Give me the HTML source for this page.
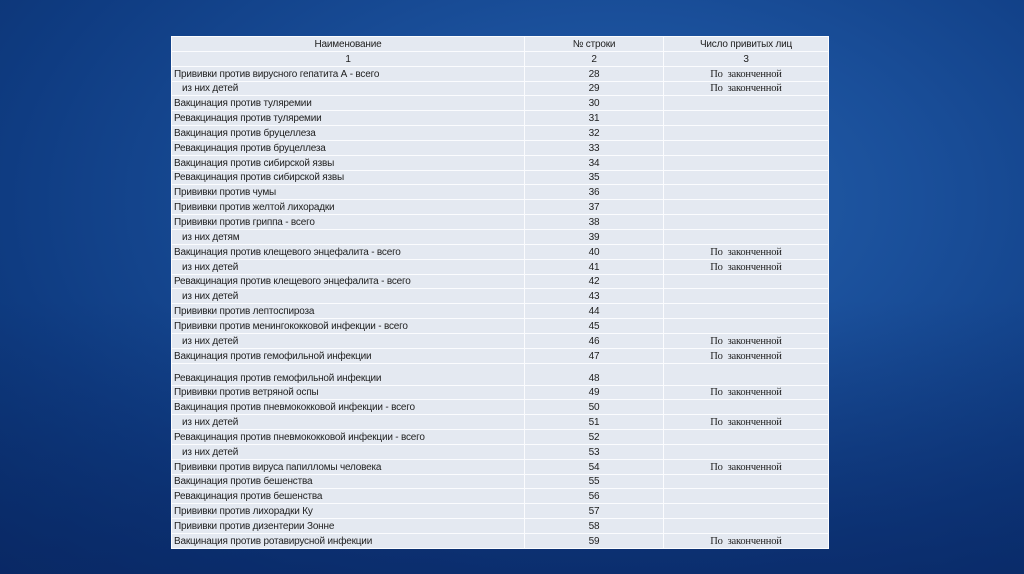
<!DOCTYPE html>
<html><head><meta charset="utf-8"><style>
html,body{margin:0;padding:0;width:1024px;height:574px;overflow:hidden}
body{background:radial-gradient(ellipse at 60% 35%,#2561ac 0%,#1a4f9a 35%,#0f3c82 70%,#0a2f6c 100%);position:relative;font-family:"Liberation Sans","Noto Sans CJK SC",sans-serif}
.band{position:absolute;left:0;right:0;top:300px;height:274px;background:linear-gradient(180deg,rgba(10,40,100,0) 0%,rgba(8,35,95,.55) 100%)}
table{position:absolute;left:171px;top:36px;width:657px;table-layout:fixed;border-collapse:collapse;background:#e4e9f1;font-size:10px;color:#1e1e1e;letter-spacing:-0.2px}
td{border:1px solid #fbfcfe;height:13.85px;padding:0 2px;line-height:12px;white-space:nowrap;vertical-align:bottom;overflow:hidden}
td:nth-child(2){text-align:center}
td:nth-child(3){text-align:center;font-family:"Liberation Serif",serif;font-size:10.5px}
tr.h td:nth-child(3){font-family:"Liberation Sans",sans-serif;font-size:10px}
tr.h td{text-align:center}
.i{padding-left:10px}
tr.t td{height:21px}
</style></head><body><div class="band"></div>
<table>
<colgroup><col style="width:353px"><col style="width:139px"><col style="width:165px"></colgroup>
<tr class="h"><td>Наименование</td><td>№ строки</td><td>Число привитых лиц</td></tr>
<tr class="h"><td>1</td><td>2</td><td>3</td></tr>
<tr><td>Прививки против вирусного гепатита А - всего</td><td>28</td><td>По&nbsp; законченной</td></tr>
<tr><td class="i">из них детей</td><td>29</td><td>По&nbsp; законченной</td></tr>
<tr><td>Вакцинация против туляремии</td><td>30</td><td></td></tr>
<tr><td>Ревакцинация против туляремии</td><td>31</td><td></td></tr>
<tr><td>Вакцинация против бруцеллеза</td><td>32</td><td></td></tr>
<tr><td>Ревакцинация против бруцеллеза</td><td>33</td><td></td></tr>
<tr><td>Вакцинация против сибирской язвы</td><td>34</td><td></td></tr>
<tr><td>Ревакцинация против сибирской язвы</td><td>35</td><td></td></tr>
<tr><td>Прививки против чумы</td><td>36</td><td></td></tr>
<tr><td>Прививки против желтой лихорадки</td><td>37</td><td></td></tr>
<tr><td>Прививки против гриппа - всего</td><td>38</td><td></td></tr>
<tr><td class="i">из них детям</td><td>39</td><td></td></tr>
<tr><td>Вакцинация против клещевого энцефалита - всего</td><td>40</td><td>По&nbsp; законченной</td></tr>
<tr><td class="i">из них детей</td><td>41</td><td>По&nbsp; законченной</td></tr>
<tr><td>Ревакцинация против клещевого энцефалита - всего</td><td>42</td><td></td></tr>
<tr><td class="i">из них детей</td><td>43</td><td></td></tr>
<tr><td>Прививки против лептоспироза</td><td>44</td><td></td></tr>
<tr><td>Прививки против менингококковой инфекции - всего</td><td>45</td><td></td></tr>
<tr><td class="i">из них детей</td><td>46</td><td>По&nbsp; законченной</td></tr>
<tr><td>Вакцинация против гемофильной инфекции</td><td>47</td><td>По&nbsp; законченной</td></tr>
<tr class="t"><td>Ревакцинация против гемофильной инфекции</td><td>48</td><td></td></tr>
<tr><td>Прививки против ветряной оспы</td><td>49</td><td>По&nbsp; законченной</td></tr>
<tr><td>Вакцинация против пневмококковой инфекции - всего</td><td>50</td><td></td></tr>
<tr><td class="i">из них детей</td><td>51</td><td>По&nbsp; законченной</td></tr>
<tr><td>Ревакцинация против пневмококковой инфекции - всего</td><td>52</td><td></td></tr>
<tr><td class="i">из них детей</td><td>53</td><td></td></tr>
<tr><td>Прививки против вируса папилломы человека</td><td>54</td><td>По&nbsp; законченной</td></tr>
<tr><td>Вакцинация против бешенства</td><td>55</td><td></td></tr>
<tr><td>Ревакцинация против бешенства</td><td>56</td><td></td></tr>
<tr><td>Прививки против лихорадки Ку</td><td>57</td><td></td></tr>
<tr><td>Прививки против дизентерии Зонне</td><td>58</td><td></td></tr>
<tr><td>Вакцинация против ротавирусной инфекции</td><td>59</td><td>По&nbsp; законченной</td></tr>
</table>
</body></html>
